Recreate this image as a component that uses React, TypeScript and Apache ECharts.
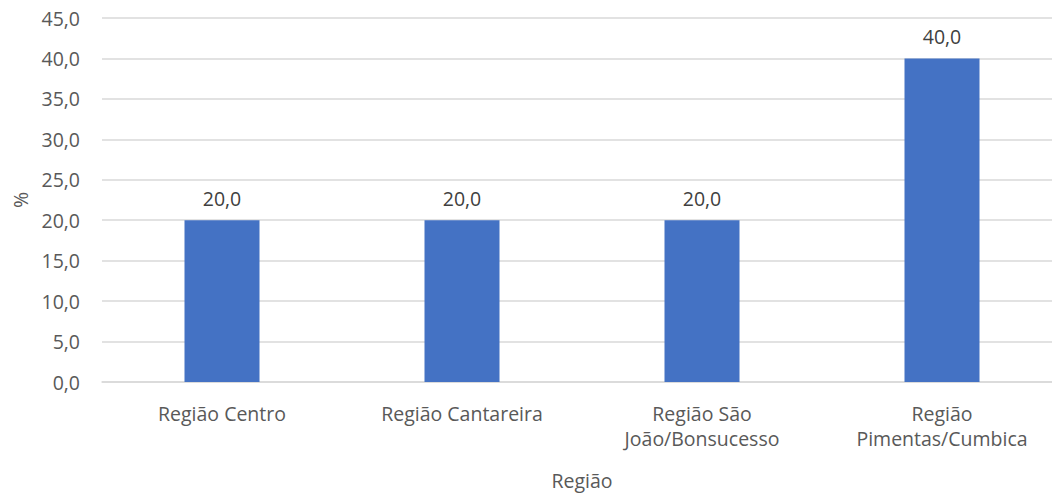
import React, { useEffect, useRef } from "react";
import * as echarts from "echarts";

// Share of respondents by region (%)
const categories = [
  "Região Centro",
  "Região Cantareira",
  "Região São\nJoão/Bonsucesso",
  "Região\nPimentas/Cumbica",
];
const values = [20.0, 20.0, 20.0, 40.0];
const yMin = 0;
const yMax = 45;
const yStep = 5;

const FONT = "'Open Sans', 'Noto Sans', sans-serif";
const fmt = (v: number) => v.toFixed(1).replace(".", ",");

export default function App() {
  const ref = useRef<HTMLDivElement>(null);

  useEffect(() => {
    if (!ref.current) return;
    const chart = echarts.init(ref.current, undefined, { renderer: "svg" });
    chart.setOption({
      animation: false,
      backgroundColor: "#ffffff",
      textStyle: { fontFamily: FONT },
      grid: {
        left: 102,
        top: 18,
        width: 960,
        height: 364,
        containLabel: false,
        outerBoundsMode: "none",
      },
      xAxis: {
        type: "category",
        data: categories,
        name: "Região",
        nameLocation: "middle",
        nameGap: 86,
        nameTextStyle: { fontFamily: FONT, fontSize: 19.5, color: "#595959", lineHeight: 25 },
        axisLine: { show: true, lineStyle: { color: "#d9d9d9", width: 1.5 } },
        axisTick: { show: false },
        axisLabel: {
          margin: 19,
          fontFamily: FONT,
          fontSize: 19.5,
          lineHeight: 25,
          color: "#595959",
          interval: 0,
        },
      },
      yAxis: {
        type: "value",
        min: yMin,
        max: yMax,
        interval: yStep,
        name: "%",
        nameLocation: "middle",
        nameGap: 72,
        nameTextStyle: { fontFamily: FONT, fontSize: 19.5, color: "#595959" },
        axisLine: { show: false },
        axisTick: { show: false },
        axisLabel: {
          margin: 22,
          fontFamily: FONT,
          fontSize: 19.5,
          color: "#595959",
          formatter: (v: number) => fmt(v),
        },
        splitLine: { lineStyle: { color: "#d9d9d9", width: 1.5 } },
      },
      series: [
        {
          type: "bar",
          data: values,
          barWidth: 75,
          itemStyle: { color: "#4472c4" },
          label: {
            show: true,
            position: "top",
            distance: 12,
            fontFamily: FONT,
            fontSize: 19.5,
            color: "#404040",
            formatter: (p: any) => fmt(p.value),
          },
        },
      ],
    });
    return () => chart.dispose();
  }, []);

  return (
    <div
      ref={ref}
      style={{ position: "fixed", left: 0, top: 0, width: 1052, height: 494, background: "#fff" }}
    />
  );
}
